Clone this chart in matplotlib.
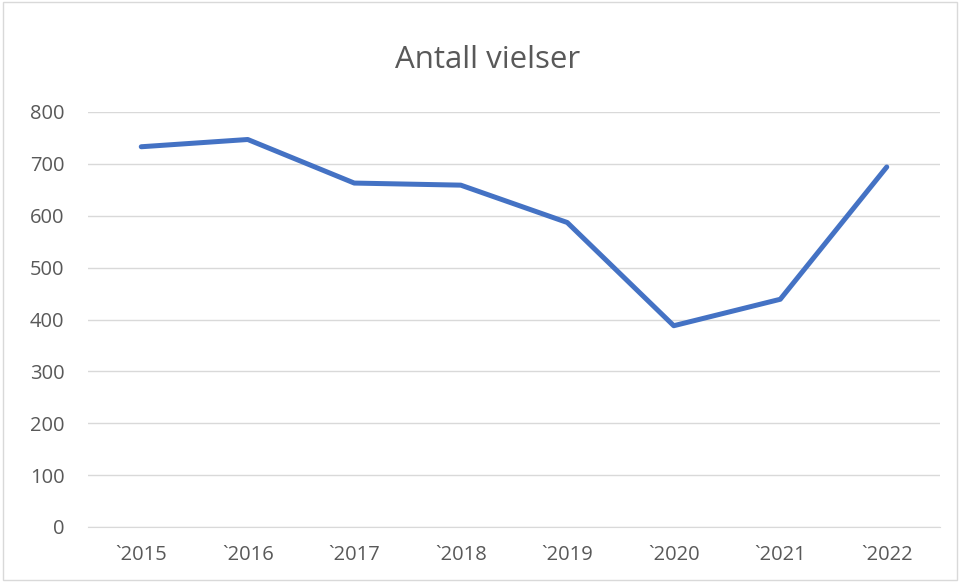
import matplotlib.pyplot as plt
from matplotlib.patches import Rectangle

years = ["`2015", "`2016", "`2017", "`2018", "`2019", "`2020", "`2021", "`2022"]
vielser = [733, 747, 663, 659, 587, 388, 439, 694]

plt.rcParams['font.family'] = ['Open Sans', 'DejaVu Sans']
text_color = "#595959"

fig = plt.figure(figsize=(9.6, 5.82), dpi=100)
ax = fig.add_axes([88 / 960, 1 - 527 / 582, (940 - 88) / 960, (527 - 112) / 582])

x = list(range(len(years)))
ax.plot(x, vielser, color="#4472C4", linewidth=3.6, solid_capstyle="round", solid_joinstyle="round")

ax.set_xlim(-0.5, len(years) - 0.5)
ax.set_ylim(0, 800)
ax.set_yticks(range(0, 801, 100))
ax.set_xticks(x)
ax.set_xticklabels(years)
ax.grid(axis="y", color="#D9D9D9", linewidth=1)
ax.set_axisbelow(True)
for s in ["top", "right", "left"]:
    ax.spines[s].set_visible(False)
ax.spines["bottom"].set_color("#D9D9D9")
ax.tick_params(length=0, labelsize=14.5, colors=text_color)
ax.tick_params(axis="y", pad=17)
ax.tick_params(axis="x", pad=13)

fig.text(488 / 960, 1 - 68 / 582, "Antall vielser", ha="center", va="baseline",
         fontsize=22.5, color=text_color)

fig.patches.append(Rectangle((0.003, 0.003), 0.994, 0.994, transform=fig.transFigure,
                             fill=False, edgecolor="#D9D9D9", linewidth=1))

fig.savefig("out.png", dpi=100)
